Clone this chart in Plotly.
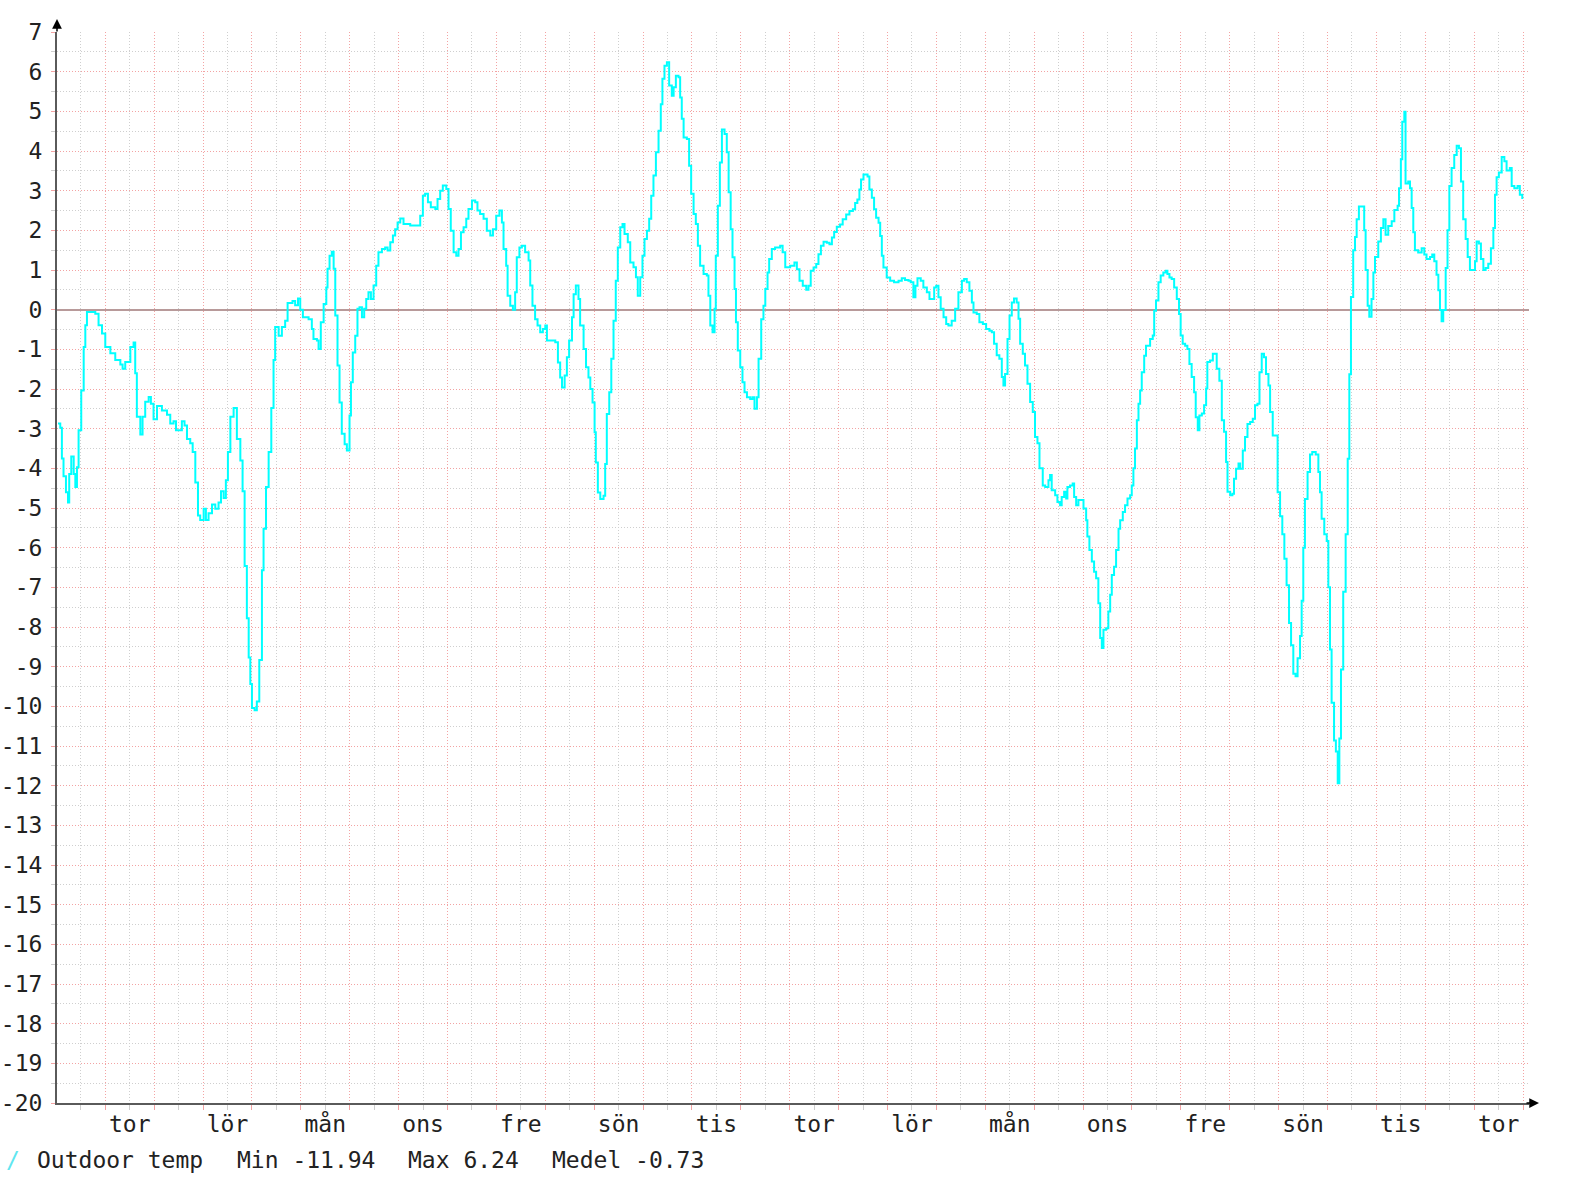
import plotly.graph_objects as go

# ---- data: hours relative to the first Thursday 00:00, outdoor temperature (°C)
seg1_hours = [-23.2, -22.1, -21.3, -20.5, -19.3, -18.3, -17.7, -16.7, -15.5, -14.7,
              -13.9, -13.1, -11.8, -10.6, -9.8, -9.0, -6.5, -4.9, -3.3, -1.6,
              0.0, 2.5, 4.9, 7.4, 8.5, 9.8, 11.5, 12.3, 13.9, 14.7,
              15.5, 17.2, 18.3, 19.6, 21.3, 22.4, 23.7, 25.4, 27.8, 30.3,
              31.9, 33.5, 34.7, 36.3, 37.6, 38.9, 40.1, 41.7, 42.9, 44.2,
              45.5, 46.6, 48.3, 49.4, 50.7, 52.4, 54.0, 55.6, 56.8, 58.1,
              59.2, 60.2, 61.4, 63.0, 64.6, 66.3, 67.4, 68.4, 69.5, 70.4,
              71.2, 72.0, 73.3, 74.4, 75.6, 76.9, 77.7, 78.9, 80.2, 81.5,
              82.6, 83.4, 85.1, 86.7, 88.3, 89.5, 91.9, 93.2, 94.6, 95.7]
seg1_temp = [-2.87, -2.98, -3.75, -4.2, -4.6, -4.86, -4.14, -3.7, -4.14, -4.47,
             -3.97, -3.04, -2.04, -0.94, -0.39, -0.06, -0.06, -0.1, -0.39, -0.6,
             -0.94, -1.1, -1.27, -1.38, -1.49, -1.32, -1.32, -0.94, -0.83, -1.6,
             -2.7, -3.15, -2.7, -2.32, -2.2, -2.37, -2.76, -2.43, -2.54, -2.65,
             -2.87, -2.81, -3.04, -3.04, -2.81, -2.92, -3.26, -3.37, -3.59, -4.36,
             -5.19, -5.3, -5.02, -5.3, -5.13, -4.91, -5.02, -4.86, -4.58, -4.75,
             -4.3, -3.59, -2.7, -2.48, -3.26, -3.8, -4.58, -6.46, -7.78, -8.77,
             -9.44, -10.04, -10.1, -9.88, -8.83, -6.57, -5.52, -4.47, -3.59, -2.48,
             -1.27, -0.44, -0.66, -0.44, -0.28, 0.17, 0.22, 0.11, 0.28, 0.0]

seg2_hours = [97.0, 99.8, 101.4, 102.2, 103.9, 104.7, 105.8, 107.2, 108.5, 109.1,
              110.1, 111.2, 112.1, 112.9, 114.0, 115.0, 116.1, 117.5, 118.6, 119.9,
              120.6, 121.5, 122.7, 123.8, 124.8, 126.0, 127.1, 128.1, 129.2, 130.4,
              131.7, 133.0, 134.1, 135.8, 137.4, 138.6, 139.9, 141.2, 142.3, 143.5,
              144.8, 146.4, 149.7, 153.8, 154.6, 155.9, 157.0, 158.4, 159.8, 162.0,
              163.1, 164.4, 165.7, 167.4, 168.5, 169.6, 171.0, 172.3, 173.4, 174.6,
              175.9, 177.2, 178.3, 180.0, 181.6, 182.7, 184.0, 185.7, 187.3, 189.0,
              190.3, 191.9, 193.5, 194.7, 195.5, 196.8, 197.5, 198.8, 200.1, 201.2,
              202.0, 203.3, 204.5, 206.1, 207.8, 208.6, 209.7, 211.0, 212.2, 213.5,
              214.8, 216.0]
seg2_temp = [-0.19, -0.24, -0.49, -0.74, -0.78, -0.99, -0.32, 0.14, 0.56, 1.03,
             1.36, 1.46, 1.03, -0.15, -1.41, -2.34, -3.13, -3.39, -3.55, -2.67,
             -1.83, -1.08, -0.66, 0.02, 0.06, -0.19, 0.02, 0.27, 0.44, 0.27,
             0.61, 1.11, 1.45, 1.53, 1.57, 1.49, 1.70, 1.87, 2.03, 2.20,
             2.30, 2.16, 2.12, 2.12, 2.37, 2.87, 2.92, 2.71, 2.58, 2.54,
             2.79, 3.0, 3.13, 3.04, 2.54, 1.99, 1.45, 1.36, 1.53, 1.95,
             2.08, 2.29, 2.54, 2.75, 2.71, 2.50, 2.41, 2.29, 1.99, 1.87,
             2.03, 2.37, 2.50, 2.20, 1.53, 1.11, 0.35, 0.10, 0.0, 0.44,
             1.32, 1.57, 1.61, 1.45, 1.24, 0.61, 0.10, -0.24, -0.40, -0.57,
             -0.49, -0.40]

seg3_hours = [216.8, 220.9, 222.2, 223.3, 224.2, 225.5, 226.6, 227.7, 229.1, 229.9,
              231.0, 232.3, 233.1, 234.8, 236.0, 237.2, 238.1, 239.2, 240.2, 240.8,
              241.8, 243.0, 244.6, 245.4, 246.2, 247.4, 248.4, 249.5, 250.6, 251.6,
              252.8, 253.9, 254.9, 256.5, 257.7, 259.3, 260.5, 261.4, 262.6, 263.7,
              264.7, 265.9, 267.0, 268.0, 269.1, 270.3, 271.6, 272.7, 273.5, 274.5,
              275.7, 276.8, 278.1, 279.0, 280.1, 281.4, 282.2, 283.0, 283.9, 285.5,
              286.6, 287.6, 288.8, 289.9, 290.9, 292.0, 293.7, 295.3, 296.1, 297.0,
              298.1, 299.1, 299.7, 300.7, 301.7, 302.7, 304.0, 305.1, 306.0, 307.0,
              307.9, 308.9, 309.6, 310.5, 311.7, 312.8, 313.8, 315.0, 316.6, 317.7,
              318.7, 319.9, 320.7, 322.0, 323.1, 324.0, 325.1, 325.9, 327.2, 328.8,
              331.3, 332.5, 333.8, 336.2, 338.3]
seg3_temp = [-0.78, -0.82, -1.33, -1.71, -1.96, -1.66, -1.20, -0.78, -0.19, 0.39,
             0.61, 0.27, -0.40, -0.99, -1.45, -1.71, -2.0, -2.34, -3.09, -3.85,
             -4.61, -4.77, -4.69, -3.89, -2.63, -2.08, -1.24, -0.28, 0.73, 1.57,
             2.08, 2.16, 1.91, 1.70, 1.19, 1.07, 0.82, 0.35, 0.82, 1.36,
             1.78, 1.99, 2.29, 2.87, 3.38, 3.97, 4.51, 5.18, 5.82, 6.15,
             6.24, 5.65, 5.39, 5.61, 5.90, 5.86, 5.35, 4.81, 4.34, 4.30,
             3.63, 2.92, 2.41, 2.16, 1.61, 1.11, 0.90, 0.86, 0.35, -0.40,
             -0.57, 0.02, 1.36, 2.62, 3.71, 4.54, 4.43, 3.97, 2.96, 2.03,
             1.32, 0.52, -0.32, -1.03, -1.45, -1.83, -2.08, -2.21, -2.25, -2.21,
             -2.50, -2.21, -1.24, -0.24, 0.10, 0.52, 0.94, 1.28, 1.53, 1.57,
             1.61, 1.45, 1.07, 1.11, 1.19]

seg4_hours = [339.5, 340.8, 342.4, 344.1, 345.2, 346.3, 347.7, 349.0, 350.1, 351.3,
              352.6, 354.2, 355.5, 356.7, 357.8, 359.1, 360.7, 362.0, 363.7, 365.3,
              367.0, 368.1, 369.2, 370.2, 371.0, 372.2, 374.2, 375.1, 376.3, 377.4,
              378.4, 379.6, 380.4, 381.2, 382.0, 383.6, 385.3, 387.2, 389.4, 391.0,
              392.6, 394.3, 395.4, 396.7, 397.7, 398.7, 400.3, 401.6, 403.3, 404.6,
              406.2, 406.9, 407.9, 409.0, 410.1, 411.5, 412.8, 413.9, 415.5, 417.2,
              418.8, 420.5, 421.6, 422.9, 424.2, 425.4, 426.2, 427.8, 429.1, 430.8,
              432.4, 434.0, 435.2, 436.3, 437.6, 438.9, 440.1, 440.9, 441.7, 442.9,
              443.9, 445.0, 446.1, 447.4, 448.3, 449.1, 450.4, 451.5, 452.7, 454.0,
              455.3, 456.4, 457.6]
seg4_temp = [1.02, 0.73, 0.60, 0.50, 0.60, 0.98, 1.06, 1.15, 1.40, 1.61,
             1.71, 1.69, 1.65, 1.82, 1.96, 2.09, 2.15, 2.28, 2.40, 2.49,
             2.53, 2.69, 2.78, 3.03, 3.28, 3.41, 3.36, 3.03, 2.82, 2.53,
             2.32, 2.19, 1.86, 1.36, 1.06, 0.81, 0.73, 0.69, 0.73, 0.79,
             0.75, 0.73, 0.69, 0.31, 0.60, 0.79, 0.73, 0.56, 0.44, 0.27,
             0.27, 0.56, 0.60, 0.31, 0.02, -0.19, -0.36, -0.40, -0.28, 0.02,
             0.44, 0.73, 0.77, 0.69, 0.48, 0.18, -0.07, -0.11, -0.32, -0.36,
             -0.49, -0.53, -0.57, -0.86, -1.15, -1.24, -1.70, -1.91, -1.62, -0.74,
             -0.15, 0.18, 0.28, 0.18, -0.23, -0.86, -1.11, -1.41, -1.87, -2.33,
             -2.58, -3.21, -3.37]

seg5_hours = [458.6, 460.2, 461.4, 463.0, 463.8, 464.6, 466.3, 467.4, 468.7, 469.5,
              470.7, 471.7, 472.3, 473.6, 474.9, 475.6, 476.6, 477.7, 478.9, 480.2,
              481.5, 482.1, 483.1, 484.3, 485.4, 486.4, 487.5, 488.4, 489.2, 490.0,
              491.3, 492.4, 493.3, 494.1, 495.2, 496.2, 497.4, 498.2, 499.5, 500.6,
              501.8, 503.1, 503.9, 504.7, 505.5, 506.4, 507.2, 508.0, 508.8, 510.0,
              510.9, 512.1, 512.9, 514.2, 514.9, 515.8, 517.0, 518.1, 519.4, 520.6,
              521.4, 522.4, 523.5, 524.7, 526.0, 527.1, 527.9, 528.9, 530.1, 531.2,
              532.2, 533.3, 534.5, 535.3, 536.3, 537.1, 538.3, 539.4, 540.4, 541.0,
              542.3, 543.7, 544.8, 545.6, 546.9, 548.1, 549.2, 550.2, 550.9, 552.2,
              553.3, 554.1, 555.1, 556.3, 557.1, 558.4, 559.5, 560.7, 562.0, 563.3,
              564.4, 565.6, 566.6, 567.7, 568.8, 569.8, 571.0, 571.8, 573.1]
seg5_temp = [-4.0, -4.43, -4.47, -4.30, -4.17, -4.55, -4.68, -4.85, -4.93, -4.72,
             -4.59, -4.76, -4.47, -4.43, -4.38, -4.72, -4.93, -4.80, -4.80, -5.01,
             -5.31, -5.72, -6.06, -6.35, -6.61, -6.77, -7.40, -8.28, -8.53, -8.07,
             -8.03, -7.61, -7.19, -6.69, -6.48, -6.06, -5.52, -5.31, -5.10, -4.93,
             -4.76, -4.68, -4.43, -4.0, -3.50, -2.79, -2.37, -2.04, -1.58, -1.16,
             -0.91, -0.91, -0.74, -0.65, -0.03, 0.23, 0.69, 0.86, 0.94, 0.98,
             0.90, 0.81, 0.77, 0.56, 0.27, -0.11, -0.65, -0.86, -0.91, -0.99,
             -1.37, -1.70, -2.08, -2.71, -3.04, -2.67, -2.62, -2.41, -1.99, -1.32,
             -1.28, -1.11, -1.11, -1.49, -1.79, -2.79, -3.08, -3.84, -4.59, -4.68,
             -4.64, -4.26, -4.01, -3.88, -4.01, -3.55, -3.21, -2.88, -2.83, -2.75,
             -2.41, -2.37, -1.58, -1.11, -1.20, -1.62, -1.91, -2.58, -3.17]

seg6_hours = [575.5, 576.7, 577.8, 578.8, 579.9, 581.1, 582.1, 583.2, 584.3, 585.3,
              586.5, 587.3, 588.1, 588.9, 590.2, 591.4, 592.5, 594.2, 595.5, 596.3,
              597.1, 598.4, 599.6, 600.4, 601.2, 602.0, 603.2, 604.1, 605.0, 605.8,
              606.6, 607.7, 608.9, 609.9, 610.7, 611.5, 612.6, 613.5, 614.3, 615.4,
              617.1, 618.0, 618.7, 619.7, 620.5, 621.6, 622.5, 623.3, 624.9, 626.2,
              627.4, 628.5, 629.8, 631.5, 632.8, 634.4, 635.1, 636.0, 636.7, 637.7,
              638.3, 639.6, 640.5, 641.3, 642.1, 642.9, 644.5, 646.2, 647.5, 648.6,
              650.3, 651.4, 652.4, 653.5, 654.4, 655.2, 656.0, 656.8, 658.0, 658.9,
              659.8, 660.9, 662.2, 663.4, 664.5, 665.5, 666.6, 667.8, 668.8, 669.9,
              671.5, 672.4, 673.2, 674.3, 675.3, 676.5, 677.6, 678.9, 680.2, 681.4,
              682.2, 683.0, 684.1, 685.5, 686.8, 687.9, 689.5, 690.4, 691.7, 693.3,
              694.4, 695.6]
seg6_temp = [-4.60, -5.21, -5.66, -6.28, -6.95, -7.90, -8.46, -9.18, -9.24, -8.79,
             -8.23, -7.34, -6.00, -4.77, -4.09, -3.65, -3.59, -3.65, -4.09, -4.60,
             -5.27, -5.66, -5.83, -7.00, -8.57, -9.91, -10.86, -11.14, -11.94, -10.81,
             -9.07, -7.11, -5.66, -3.76, -1.63, 0.32, 1.50, 1.83, 2.28, 2.60,
             2.60, 2.00, 1.00, 0.10, -0.18, 0.27, 0.94, 1.33, 1.72, 2.06,
             2.28, 1.89, 2.11, 2.23, 2.51, 2.62, 3.06, 3.79, 4.74, 4.99,
             3.18, 3.23, 3.06, 2.56, 1.95, 1.50, 1.44, 1.55, 1.39, 1.28,
             1.33, 1.39, 1.22, 0.88, 0.49, -0.01, -0.29, -0.01, 1.05, 2.00,
             3.12, 3.57, 3.90, 4.13, 4.07, 3.23, 2.28, 1.78, 1.33, 1.00,
             1.00, 1.22, 1.72, 1.67, 1.28, 1.00, 1.05, 1.16, 1.55, 2.06,
             2.90, 3.34, 3.46, 3.85, 3.74, 3.51, 3.57, 3.12, 3.06, 3.12,
             2.90, 2.79]

day_labels = ["tor", "lör", "mån", "ons", "fre", "sön", "tis", "tor",
              "lör", "mån", "ons", "fre", "sön", "tis", "tor"]
y_tick_values = [7, 6, 5, 4, 3, 2, 1, 0, -1, -2, -3, -4, -5, -6, -7, -8, -9, -10,
                 -11, -12, -13, -14, -15, -16, -17, -18, -19, -20]
y_tick_labels = ["7", "6", "5", "4", "3", "2", "1", "0", "-1", "-2", "-3", "-4", "-5",
                 "-6", "-7", "-8", "-9", "-10", "-11", "-12", "-13", "-14", "-15",
                 "-16", "-17", "-18", "-19", "-20"]
legend_parts = ["Outdoor temp", "Min -11.94", "Max 6.24", "Medel -0.73"]

segments = [(seg1_hours, seg1_temp), (seg2_hours, seg2_temp), (seg3_hours, seg3_temp),
            (seg4_hours, seg4_temp), (seg5_hours, seg5_temp), (seg6_hours, seg6_temp)]
hours, temps = [], []
for i, (h, t) in enumerate(segments):
    assert len(h) == len(t), (i, len(h), len(t))
    hours += h
    temps += t

X_RANGE = [-23.7, 698.9]
label_hours = [12 + 48 * i for i in range(len(day_labels))]

W, H = 1572, 1185
ML, MR, MT, MB = 57, 43, 32, 82
PW, PH = W - ML - MR, H - MT - MB

FONT = "DejaVu Sans Mono"
TXT = "#222222"
RED_GRID = "#f3a3a3"
GREY_GRID = "#cfcfcf"
AXIS = "#5a5a5a"

fig = go.Figure()
fig.add_trace(go.Scatter(x=hours, y=temps, mode="lines", line=dict(color="#00ffff", width=2, shape="hv"),
                         showlegend=False, hoverinfo="skip"))
fig.add_trace(go.Scatter(x=[], y=[], xaxis="x2", showlegend=False, hoverinfo="skip"))

fig.update_layout(
    width=W, height=H,
    margin=dict(l=ML, r=MR, t=MT, b=MB, autoexpand=False),
    paper_bgcolor="white", plot_bgcolor="white",
    xaxis=dict(range=X_RANGE, tickmode="linear", tick0=0, dtick=24, showticklabels=False,
               ticks="outside", ticklen=5, tickcolor=RED_GRID, tickwidth=1,
               showgrid=True, gridcolor=RED_GRID, gridwidth=1, griddash="1px,2px",
               minor=dict(tickmode="linear", tick0=12, dtick=24, showgrid=True, gridcolor=GREY_GRID,
                          griddash="1px,2px", ticks="outside", ticklen=5, tickcolor=GREY_GRID),
               showline=True, linecolor=AXIS, linewidth=2, zeroline=False, fixedrange=True,
               automargin=False),
    xaxis2=dict(range=X_RANGE, overlaying="x", anchor="y", side="bottom",
                tickmode="array", tickvals=label_hours, ticktext=day_labels,
                ticks="", showgrid=False, showline=False, zeroline=False, automargin=False,
                tickfont=dict(family=FONT, size=23, color=TXT), ticklabelstandoff=5),
    yaxis=dict(range=[-20, 7], tickmode="array", tickvals=y_tick_values, ticktext=y_tick_labels,
               ticks="outside", ticklen=4, tickcolor=RED_GRID,
               showgrid=True, gridcolor=RED_GRID, gridwidth=1, griddash="1px,2px",
               minor=dict(tickmode="linear", tick0=0.5, dtick=1, showgrid=True, gridcolor=GREY_GRID,
                          griddash="1px,2px", ticks="outside", ticklen=4, tickcolor=GREY_GRID),
               zeroline=True, zerolinecolor="#b89a9a", zerolinewidth=1.5,
               showline=True, linecolor=AXIS, linewidth=2, automargin=False, fixedrange=True,
               tickfont=dict(family=FONT, size=23, color=TXT), ticklabelstandoff=4),
)

# axis arrows
fig.add_annotation(x=0, xref="x domain", y=1 + 13 / PH, yref="y domain", ax=0, ay=14,
                   text="", showarrow=True, arrowhead=2, arrowsize=1.3, arrowwidth=1.5, arrowcolor="#000")
fig.add_annotation(x=1 + 10 / PW, xref="x domain", y=0, yref="y domain", ax=-14, ay=0,
                   text="", showarrow=True, arrowhead=2, arrowsize=1.3, arrowwidth=1.5, arrowcolor="#000")

# legend line
legend_px = [35, 235, 406, 550]
LEG_Y = (H - MB - 1160) / PH
for txt, px in zip(legend_parts, legend_px):
    fig.add_annotation(x=(px - ML) / PW, xref="paper", y=LEG_Y, yref="paper",
                       xanchor="left", yanchor="middle", text=txt, showarrow=False,
                       font=dict(family=FONT, size=23, color=TXT))
fig.add_annotation(x=(4 - ML) / PW, xref="paper", y=LEG_Y, yref="paper",
                   xanchor="left", yanchor="middle", text="/", showarrow=False,
                   font=dict(family=FONT, size=23, color="#5fe6f0"))

fig.write_html("out.html", config={"displayModeBar": False},
               post_script="document.body.style.margin='0px';")
